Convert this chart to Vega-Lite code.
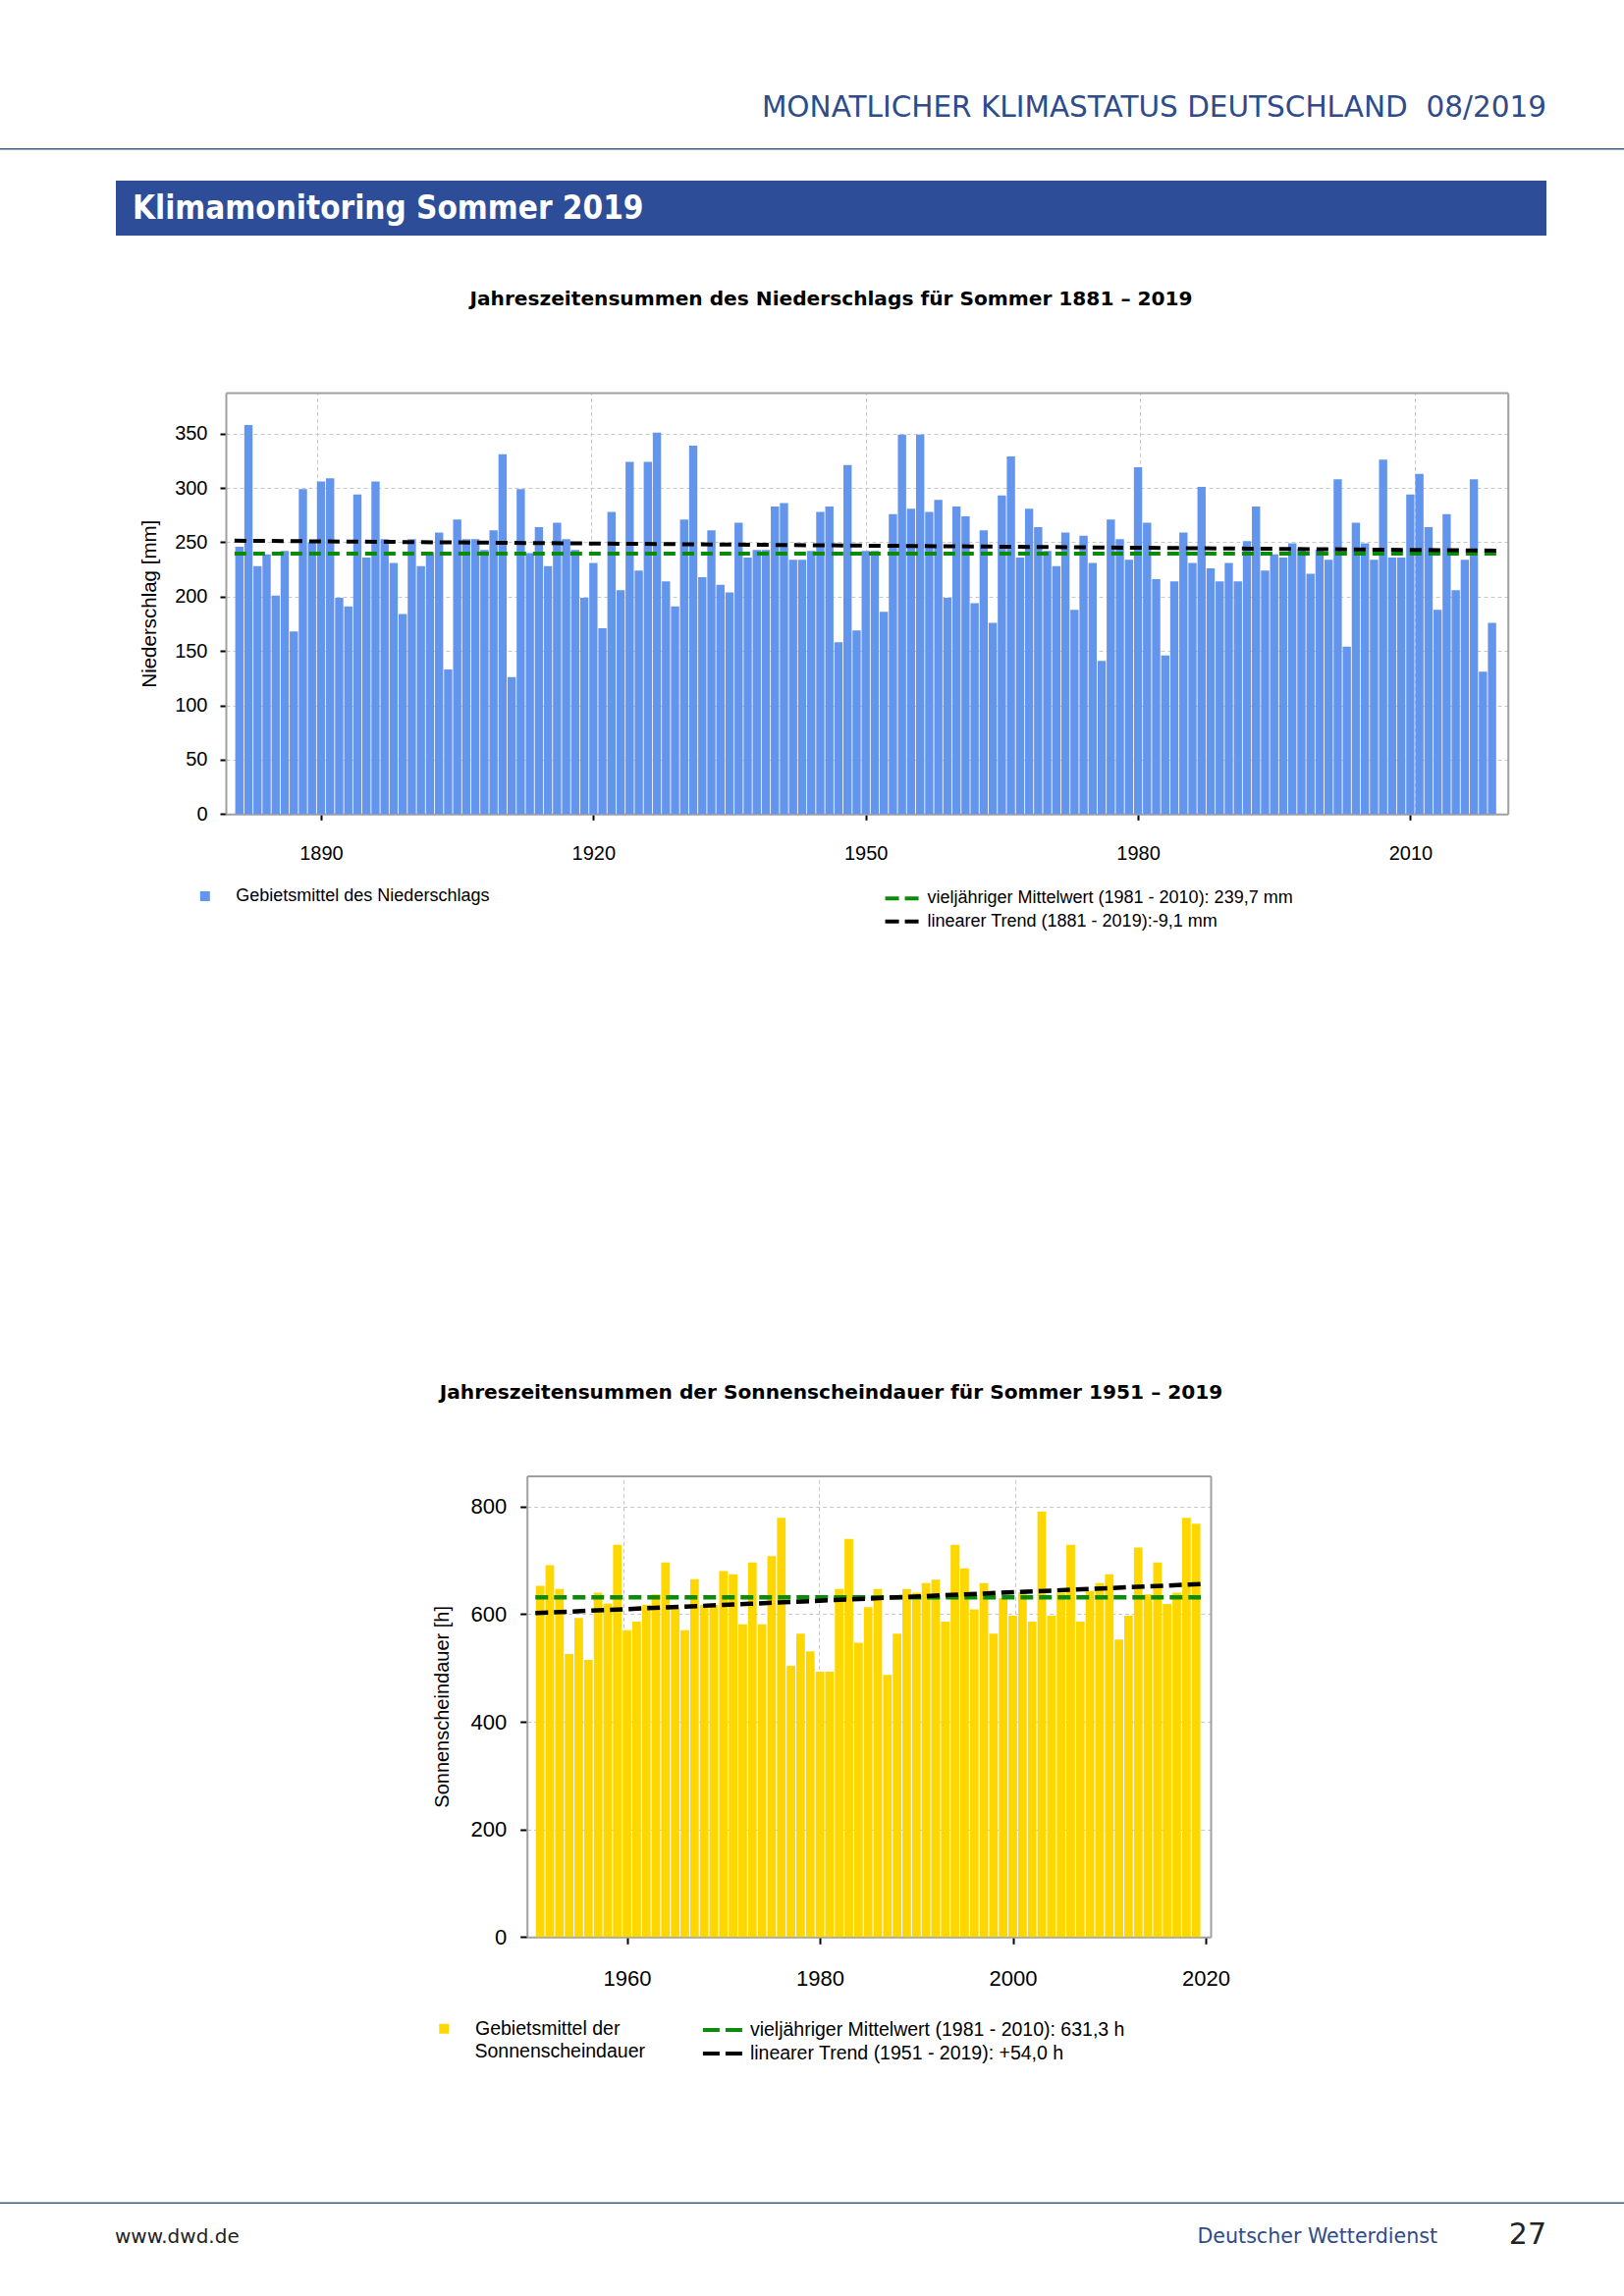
{
  "$schema": "https://vega.github.io/schema/vega-lite/v6.json",
  "width": 1654,
  "height": 2339,
  "autosize": {"type": "none"},
  "padding": 0,
  "background": "white",
  "config": {
    "view": {"stroke": null},
    "axis": {"labelFont": "Liberation Sans", "titleFont": "Liberation Sans", "labelColor": "#000000", "titleColor": "#000000", "tickColor": "#000000", "domainColor": "#a0a0a0", "domainWidth": 2, "gridColor": "#c8c8c8", "gridDash": [4, 3], "gridWidth": 1, "titleFontWeight": "normal"},
    "legend": {"labelFont": "Liberation Sans", "titleFont": "Liberation Sans", "labelColor": "#000000", "titleColor": "#000000", "padding": 0, "labelLimit": 900, "titleLimit": 900}
  },
  "datasets": {
    "niederschlag": [{"year":1881,"mm":246},{"year":1882,"mm":358},{"year":1883,"mm":228},{"year":1884,"mm":239},{"year":1885,"mm":201},{"year":1886,"mm":242},{"year":1887,"mm":168},{"year":1888,"mm":299},{"year":1889,"mm":250},{"year":1890,"mm":306},{"year":1891,"mm":309},{"year":1892,"mm":199},{"year":1893,"mm":191},{"year":1894,"mm":294},{"year":1895,"mm":236},{"year":1896,"mm":306},{"year":1897,"mm":253},{"year":1898,"mm":231},{"year":1899,"mm":184},{"year":1900,"mm":253},{"year":1901,"mm":228},{"year":1902,"mm":241},{"year":1903,"mm":259},{"year":1904,"mm":133},{"year":1905,"mm":271},{"year":1906,"mm":253},{"year":1907,"mm":253},{"year":1908,"mm":243},{"year":1909,"mm":261},{"year":1910,"mm":331},{"year":1911,"mm":126},{"year":1912,"mm":299},{"year":1913,"mm":240},{"year":1914,"mm":264},{"year":1915,"mm":228},{"year":1916,"mm":268},{"year":1917,"mm":253},{"year":1918,"mm":243},{"year":1919,"mm":199},{"year":1920,"mm":231},{"year":1921,"mm":171},{"year":1922,"mm":278},{"year":1923,"mm":206},{"year":1924,"mm":324},{"year":1925,"mm":224},{"year":1926,"mm":324},{"year":1927,"mm":351},{"year":1928,"mm":214},{"year":1929,"mm":191},{"year":1930,"mm":271},{"year":1931,"mm":339},{"year":1932,"mm":218},{"year":1933,"mm":261},{"year":1934,"mm":211},{"year":1935,"mm":204},{"year":1936,"mm":268},{"year":1937,"mm":236},{"year":1938,"mm":243},{"year":1939,"mm":243},{"year":1940,"mm":283},{"year":1941,"mm":286},{"year":1942,"mm":234},{"year":1943,"mm":234},{"year":1944,"mm":242},{"year":1945,"mm":278},{"year":1946,"mm":283},{"year":1947,"mm":158},{"year":1948,"mm":321},{"year":1949,"mm":169},{"year":1950,"mm":242},{"year":1951,"mm":242},{"year":1952,"mm":186},{"year":1953,"mm":276},{"year":1954,"mm":349},{"year":1955,"mm":281},{"year":1956,"mm":349},{"year":1957,"mm":278},{"year":1958,"mm":289},{"year":1959,"mm":199},{"year":1960,"mm":283},{"year":1961,"mm":274},{"year":1962,"mm":194},{"year":1963,"mm":261},{"year":1964,"mm":176},{"year":1965,"mm":293},{"year":1966,"mm":329},{"year":1967,"mm":236},{"year":1968,"mm":281},{"year":1969,"mm":264},{"year":1970,"mm":242},{"year":1971,"mm":228},{"year":1972,"mm":259},{"year":1973,"mm":188},{"year":1974,"mm":256},{"year":1975,"mm":231},{"year":1976,"mm":141},{"year":1977,"mm":271},{"year":1978,"mm":253},{"year":1979,"mm":234},{"year":1980,"mm":319},{"year":1981,"mm":268},{"year":1982,"mm":216},{"year":1983,"mm":146},{"year":1984,"mm":214},{"year":1985,"mm":259},{"year":1986,"mm":231},{"year":1987,"mm":301},{"year":1988,"mm":226},{"year":1989,"mm":214},{"year":1990,"mm":231},{"year":1991,"mm":214},{"year":1992,"mm":251},{"year":1993,"mm":283},{"year":1994,"mm":224},{"year":1995,"mm":239},{"year":1996,"mm":236},{"year":1997,"mm":249},{"year":1998,"mm":244},{"year":1999,"mm":221},{"year":2000,"mm":243},{"year":2001,"mm":234},{"year":2002,"mm":308},{"year":2003,"mm":154},{"year":2004,"mm":268},{"year":2005,"mm":249},{"year":2006,"mm":234},{"year":2007,"mm":326},{"year":2008,"mm":236},{"year":2009,"mm":236},{"year":2010,"mm":294},{"year":2011,"mm":313},{"year":2012,"mm":264},{"year":2013,"mm":188},{"year":2014,"mm":276},{"year":2015,"mm":206},{"year":2016,"mm":234},{"year":2017,"mm":308},{"year":2018,"mm":131},{"year":2019,"mm":176}],
    "niederschlag_linien": [
      {"year":1881,"mm":239.7,"series":"vieljähriger Mittelwert (1981 - 2010): 239,7 mm"},
      {"year":2019,"mm":239.7,"series":"vieljähriger Mittelwert (1981 - 2010): 239,7 mm"},
      {"year":1881,"mm":251.5,"series":"linearer Trend (1881 - 2019):-9,1 mm"},
      {"year":2019,"mm":242.4,"series":"linearer Trend (1881 - 2019):-9,1 mm"}
    ],
    "sonne": [{"year":1951,"h":653},{"year":1952,"h":691},{"year":1953,"h":647},{"year":1954,"h":526},{"year":1955,"h":593},{"year":1956,"h":515},{"year":1957,"h":640},{"year":1958,"h":620},{"year":1959,"h":729},{"year":1960,"h":570},{"year":1961,"h":586},{"year":1962,"h":617},{"year":1963,"h":637},{"year":1964,"h":696},{"year":1965,"h":611},{"year":1966,"h":570},{"year":1967,"h":665},{"year":1968,"h":617},{"year":1969,"h":617},{"year":1970,"h":680},{"year":1971,"h":674},{"year":1972,"h":581},{"year":1973,"h":696},{"year":1974,"h":581},{"year":1975,"h":708},{"year":1976,"h":779},{"year":1977,"h":504},{"year":1978,"h":564},{"year":1979,"h":531},{"year":1980,"h":493},{"year":1981,"h":493},{"year":1982,"h":647},{"year":1983,"h":740},{"year":1984,"h":547},{"year":1985,"h":613},{"year":1986,"h":647},{"year":1987,"h":487},{"year":1988,"h":564},{"year":1989,"h":647},{"year":1990,"h":640},{"year":1991,"h":658},{"year":1992,"h":664},{"year":1993,"h":586},{"year":1994,"h":729},{"year":1995,"h":685},{"year":1996,"h":609},{"year":1997,"h":658},{"year":1998,"h":564},{"year":1999,"h":630},{"year":2000,"h":597},{"year":2001,"h":640},{"year":2002,"h":586},{"year":2003,"h":791},{"year":2004,"h":597},{"year":2005,"h":640},{"year":2006,"h":729},{"year":2007,"h":586},{"year":2008,"h":643},{"year":2009,"h":658},{"year":2010,"h":674},{"year":2011,"h":553},{"year":2012,"h":597},{"year":2013,"h":724},{"year":2014,"h":637},{"year":2015,"h":696},{"year":2016,"h":619},{"year":2017,"h":640},{"year":2018,"h":779},{"year":2019,"h":768}],
    "sonne_linien": [
      {"year":1951,"h":631.3,"series":"vieljähriger Mittelwert (1981 - 2010): 631,3 h"},
      {"year":2019,"h":631.3,"series":"vieljähriger Mittelwert (1981 - 2010): 631,3 h"},
      {"year":1951,"h":602,"series":"linearer Trend (1951 - 2019): +54,0 h"},
      {"year":2019,"h":656,"series":"linearer Trend (1951 - 2019): +54,0 h"}
    ],
    "seite": [
      {"part":"header","text":"MONATLICHER KLIMASTATUS DEUTSCHLAND \u00a008/2019"},
      {"part":"banner","text":"Klimamonitoring Sommer 2019"},
      {"part":"website","text":"www.dwd.de"},
      {"part":"publisher","text":"Deutscher Wetterdienst"},
      {"part":"pagenumber","text":"27"}
    ]
  },
  "resolve": {
    "scale": {"x": "independent", "y": "independent", "color": "independent"},
    "axis": {"x": "independent", "y": "independent"},
    "legend": {"color": "independent"}
  },
  "layer": [
    {
      "data": {"name": "seite"},
      "transform": [{"filter": "datum.part === 'header'"}],
      "mark": {"type": "text", "align": "right", "baseline": "alphabetic", "font": "DejaVu Sans", "fontSize": 29.5, "color": "#2e4b8c"},
      "encoding": {
        "text": {"field": "text"},
        "x": {"field": "text", "type": "nominal", "bandPosition": 1, "scale": {"type": "band", "range": [118, 1575], "paddingInner": 0, "paddingOuter": 0}, "axis": null},
        "y": {"field": "text", "type": "nominal", "bandPosition": 0.5, "scale": {"type": "band", "range": [108, 129], "paddingInner": 0, "paddingOuter": 0}, "axis": null}
      }
    },
    {
      "data": {"name": "seite"},
      "transform": [{"filter": "datum.part === 'header'"}],
      "mark": {"type": "rect", "color": "#3a5a87"},
      "encoding": {
        "x": {"field": "part", "type": "nominal", "scale": {"type": "band", "range": [0, 1654], "paddingInner": 0, "paddingOuter": 0}, "axis": null},
        "y": {"field": "part", "type": "nominal", "scale": {"type": "band", "range": [151, 152.6], "paddingInner": 0, "paddingOuter": 0}, "axis": null}
      }
    },
    {
      "data": {"name": "seite"},
      "transform": [{"filter": "datum.part === 'banner'"}],
      "mark": {"type": "rect", "color": "#2d4d99"},
      "encoding": {
        "x": {"field": "part", "type": "nominal", "scale": {"type": "band", "range": [118, 1575], "paddingInner": 0, "paddingOuter": 0}, "axis": null},
        "y": {"field": "part", "type": "nominal", "scale": {"type": "band", "range": [184, 240], "paddingInner": 0, "paddingOuter": 0}, "axis": null}
      }
    },
    {
      "data": {"name": "seite"},
      "transform": [{"filter": "datum.part === 'banner'"}],
      "mark": {"type": "text", "align": "left", "baseline": "alphabetic", "font": "DejaVu Sans Condensed, DejaVu Sans", "fontWeight": "bold", "fontSize": 33, "color": "#ffffff", "dx": 17},
      "encoding": {
        "text": {"field": "text"},
        "x": {"field": "text", "type": "nominal", "bandPosition": 0, "scale": {"type": "band", "range": [118, 1575], "paddingInner": 0, "paddingOuter": 0}, "axis": null},
        "y": {"field": "text", "type": "nominal", "bandPosition": 0.5, "scale": {"type": "band", "range": [212, 234.6], "paddingInner": 0, "paddingOuter": 0}, "axis": null}
      }
    },
    {
      "data": {"name": "seite"},
      "transform": [{"filter": "datum.part === 'website'"}],
      "mark": {"type": "rect", "color": "#3a5a87"},
      "encoding": {
        "x": {"field": "part", "type": "nominal", "scale": {"type": "band", "range": [0, 1654], "paddingInner": 0, "paddingOuter": 0}, "axis": null},
        "y": {"field": "part", "type": "nominal", "scale": {"type": "band", "range": [2243.4, 2245], "paddingInner": 0, "paddingOuter": 0}, "axis": null}
      }
    },
    {
      "data": {"name": "seite"},
      "transform": [{"filter": "datum.part === 'website'"}],
      "mark": {"type": "text", "align": "left", "baseline": "alphabetic", "font": "DejaVu Sans", "fontSize": 20, "color": "#222222"},
      "encoding": {
        "text": {"field": "text"},
        "x": {"field": "text", "type": "nominal", "bandPosition": 0, "scale": {"type": "band", "range": [117, 600], "paddingInner": 0, "paddingOuter": 0}, "axis": null},
        "y": {"field": "text", "type": "nominal", "bandPosition": 0.5, "scale": {"type": "band", "range": [2275, 2295], "paddingInner": 0, "paddingOuter": 0}, "axis": null}
      }
    },
    {
      "data": {"name": "seite"},
      "transform": [{"filter": "datum.part === 'publisher'"}],
      "mark": {"type": "text", "align": "right", "baseline": "alphabetic", "font": "DejaVu Sans", "fontSize": 20.6, "color": "#2e4b8c"},
      "encoding": {
        "text": {"field": "text"},
        "x": {"field": "text", "type": "nominal", "bandPosition": 1, "scale": {"type": "band", "range": [1000, 1464], "paddingInner": 0, "paddingOuter": 0}, "axis": null},
        "y": {"field": "text", "type": "nominal", "bandPosition": 0.5, "scale": {"type": "band", "range": [2275, 2295], "paddingInner": 0, "paddingOuter": 0}, "axis": null}
      }
    },
    {
      "data": {"name": "seite"},
      "transform": [{"filter": "datum.part === 'pagenumber'"}],
      "mark": {"type": "text", "align": "right", "baseline": "alphabetic", "font": "DejaVu Sans", "fontSize": 30, "color": "#222222"},
      "encoding": {
        "text": {"field": "text"},
        "x": {"field": "text", "type": "nominal", "bandPosition": 1, "scale": {"type": "band", "range": [1500, 1575], "paddingInner": 0, "paddingOuter": 0}, "axis": null},
        "y": {"field": "text", "type": "nominal", "bandPosition": 0.5, "scale": {"type": "band", "range": [2276, 2296], "paddingInner": 0, "paddingOuter": 0}, "axis": null}
      }
    },
    {
      "data": {"name": "niederschlag"},
      "mark": {"type": "bar", "orient": "vertical", "size": 8.4},
      "encoding": {
        "x": {"field": "year", "type": "quantitative",
          "scale": {"domain": [1880.05, 2020.2], "range": [230, 1535.7], "nice": false, "zero": false},
          "axis": {"orient": "bottom", "offset": -1509.7, "values": [1890, 1920, 1950, 1980, 2010], "format": "d", "grid": false, "domain": true, "ticks": true, "tickSize": 6, "tickWidth": 2, "labelFontSize": 20, "labelPadding": 24, "labelFlush": false, "labelOverlap": false, "title": null}},
        "y": {"field": "mm", "type": "quantitative",
          "scale": {"domain": [0, 387.7], "range": [829.3, 400], "nice": false, "zero": true},
          "axis": {"orient": "left", "offset": -230, "values": [0, 50, 100, 150, 200, 250, 300, 350], "grid": true, "domain": true, "ticks": true, "tickSize": 6, "tickWidth": 2, "labelFontSize": 20, "labelPadding": 13, "title": "Niederschlag [mm]", "titleFontSize": 20.5, "titleX": -78, "titleY": 614.7, "titleAngle": 270, "titleAlign": "center", "titleBaseline": "middle", "titleLimit": 2000}},
        "color": {"datum": "Gebietsmittel des Niederschlags", "type": "nominal",
          "scale": {"range": ["#6495ED"]},
          "legend": {"orient": "none", "legendX": 199.8, "legendY": 904, "title": null, "symbolType": "square", "symbolSize": 100, "symbolStrokeWidth": 0, "labelFontSize": 18, "labelOffset": 22.5}}
      }
    },
    {
      "data": {"name": "niederschlag_linien"},
      "mark": {"type": "line", "strokeWidth": 4, "strokeDash": [12, 7], "strokeCap": "butt"},
      "encoding": {
        "x": {"field": "year", "type": "quantitative",
          "scale": {"domain": [1880.05, 2020.2], "range": [230, 1535.7], "nice": false, "zero": false},
          "axis": {"orient": "top", "offset": -400, "values": [1890, 1920, 1950, 1980, 2010], "grid": true, "labels": false, "ticks": false, "domain": true,
            "title": "Jahreszeitensummen des Niederschlags für Sommer 1881 – 2019", "titleFont": "DejaVu Sans", "titleFontWeight": "bold", "titleFontSize": 20.15, "titleX": 846, "titleY": -96, "titleAlign": "center", "titleBaseline": "middle", "titleAngle": 0, "titleLimit": 2000}},
        "y": {"field": "mm", "type": "quantitative",
          "scale": {"domain": [0, 387.7], "range": [829.3, 400], "nice": false, "zero": true},
          "axis": {"orient": "right", "offset": -118.3, "grid": false, "labels": false, "ticks": false, "domain": true, "title": null}},
        "color": {"field": "series", "type": "nominal",
          "scale": {"domain": ["vieljähriger Mittelwert (1981 - 2010): 239,7 mm", "linearer Trend (1881 - 2019):-9,1 mm"], "range": ["#0b8a0b", "#000000"]},
          "legend": {"orient": "none", "legendX": 905.5, "legendY": 901.8, "title": null, "symbolType": "M-1.55,0H1.55", "symbolSize": 506, "symbolStrokeWidth": 4, "symbolDash": [14, 6], "labelFontSize": 18, "labelOffset": 12, "rowPadding": 0.5}}
      }
    },
    {
      "data": {"name": "sonne"},
      "mark": {"type": "bar", "orient": "vertical", "size": 8.8, "color": "#FFD700"},
      "encoding": {
        "x": {"field": "year", "type": "quantitative",
          "scale": {"domain": [1950.14, 2020], "range": [536.7, 1233], "nice": false, "zero": false},
          "axis": {"orient": "bottom", "offset": -365.7, "values": [1960, 1980, 2000, 2020], "format": "d", "grid": false, "domain": true, "ticks": true, "tickSize": 7, "tickWidth": 2, "labelFontSize": 22, "labelPadding": 25, "labelFlush": false, "labelOverlap": false, "title": null}},
        "y": {"field": "h", "type": "quantitative",
          "scale": {"domain": [0, 857.3], "range": [1973.3, 1503.4], "nice": false, "zero": true},
          "axis": {"orient": "left", "offset": -536.7, "values": [0, 200, 400, 600, 800], "grid": true, "domain": true, "ticks": true, "tickSize": 7, "tickWidth": 2, "labelFontSize": 22, "labelPadding": 14, "title": "Sonnenscheindauer [h]", "titleFontSize": 20, "titleX": -86.7, "titleY": 1738.35, "titleAngle": 270, "titleAlign": "center", "titleBaseline": "middle", "titleLimit": 2000}},
        "color": {"datum": "Gebietsmittel der", "type": "nominal",
          "scale": {"range": ["#FFD700"]},
          "legend": {"orient": "none", "legendX": 483.5, "legendY": 2057, "title": "Sonnenscheindauer", "titleOrient": "bottom", "titleAnchor": "start", "titleFontSize": 19.5, "titleFontWeight": "normal", "titlePadding": 5, "symbolType": "square", "symbolSize": 100, "symbolStrokeWidth": 0, "symbolOffset": -41, "labelFontSize": 19.5, "labelOffset": 22}}
      }
    },
    {
      "data": {"name": "sonne_linien"},
      "mark": {"type": "line", "strokeWidth": 4.5, "strokeDash": [13, 6], "strokeCap": "butt"},
      "encoding": {
        "x": {"field": "year", "type": "quantitative",
          "scale": {"domain": [1950.14, 2020], "range": [536.7, 1233], "nice": false, "zero": false},
          "axis": {"orient": "top", "offset": -1503.4, "values": [1960, 1980, 2000, 2020], "grid": true, "labels": false, "ticks": false, "domain": true,
            "title": "Jahreszeitensummen der Sonnenscheindauer für Sommer 1951 – 2019", "titleFont": "DejaVu Sans", "titleFontWeight": "bold", "titleFontSize": 20.15, "titleX": 846, "titleY": -85.4, "titleAlign": "center", "titleBaseline": "middle", "titleAngle": 0, "titleLimit": 2000}},
        "y": {"field": "h", "type": "quantitative",
          "scale": {"domain": [0, 857.3], "range": [1973.3, 1503.4], "nice": false, "zero": true},
          "axis": {"orient": "right", "offset": -421, "grid": false, "labels": false, "ticks": false, "domain": true, "title": null}},
        "color": {"field": "series", "type": "nominal",
          "scale": {"domain": ["vieljähriger Mittelwert (1981 - 2010): 631,3 h", "linearer Trend (1951 - 2019): +54,0 h"], "range": ["#0b8a0b", "#000000"]},
          "legend": {"orient": "none", "legendX": 722.9, "legendY": 2054, "title": null, "symbolType": "M-1.75,0H1.75", "symbolSize": 576, "symbolStrokeWidth": 4, "symbolDash": [17, 6], "labelFontSize": 19.5, "labelOffset": 13, "rowPadding": 0}}
      }
    }
  ]
}
